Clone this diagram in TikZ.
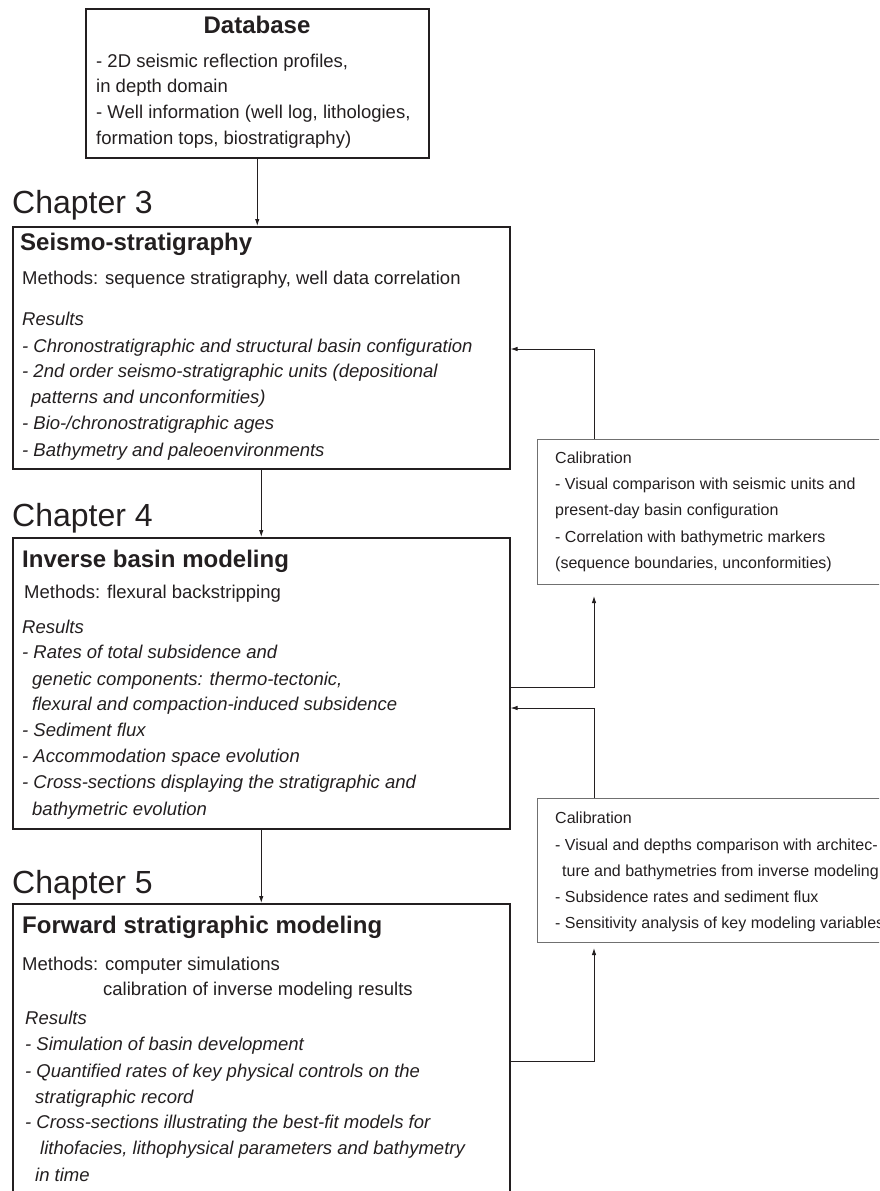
\documentclass[tikz,border=0pt]{standalone}
\usepackage{fontspec}
\setmainfont{Liberation Sans}
\usetikzlibrary{arrows.meta}

\definecolor{ink}{HTML}{231F20}
\definecolor{calgray}{HTML}{707070}

\tikzset{
  bigbox/.style={draw=ink, line width=1.5pt, anchor=north west, inner sep=0pt},
  calbox/.style={draw=calgray, line width=1pt, anchor=north west, inner sep=0pt},
  txt/.style={anchor=base west, inner sep=0pt, text=ink, font=\fontsize{18.5}{22}\selectfont},
  itl/.style={txt, font=\fontsize{18.5}{22}\selectfont\itshape},
  ttl/.style={txt, font=\fontsize{24}{28}\selectfont\bfseries},
  chap/.style={txt, font=\fontsize{32}{36}\selectfont},
  cal/.style={txt, font=\fontsize{16}{20}\selectfont},
  link/.style={draw=ink, line width=0.9pt, -{Latex[length=7pt,width=4.5pt]}},
}

\begin{document}
\begin{tikzpicture}[x=1pt, y=-1pt]
\useasboundingbox (0,0) rectangle (879,1191);
\clip (0,0) rectangle (879,1191);

% boxes
\node[bigbox, minimum width=343pt, minimum height=149pt] (db) at (85,8) {};
\node[bigbox, minimum width=497pt, minimum height=242pt] (seismo) at (12,226) {};
\node[bigbox, minimum width=497pt, minimum height=291pt] (inverse) at (12,537) {};
\node[bigbox, minimum width=497pt, minimum height=300pt] (forward) at (12,903) {};
\node[calbox, minimum width=380pt, minimum height=145pt] (cal1) at (537,439) {};
\node[calbox, minimum width=380pt, minimum height=144pt] (cal2) at (537,798) {};

% database
\node[ttl, anchor=base] (dbt) at (257,33) {Database};
\node[txt] (db1) at (96,67) {- 2D seismic reflection profiles,};
\node[txt] (db2) at (96,92) {in depth domain};
\node[txt] (db3) at (96,118) {- Well information (well log, lithologies,};
\node[txt] (db4) at (96,144) {formation tops, biostratigraphy)};

% chapter 3
\node[chap] (ch3) at (12,213) {Chapter 3};
\node[ttl] (st) at (20,250) {Seismo-stratigraphy};
\node[txt] (sm) at (22,284) {Methods: sequence stratigraphy, well data correlation};
\node[itl] (sr) at (22,325) {Results};
\node[itl] (s1) at (22,352) {- Chronostratigraphic and structural basin configuration};
\node[itl] (s2) at (22,377) {- 2nd order seismo-stratigraphic units (depositional};
\node[itl] (s3) at (31,403) {patterns and unconformities)};
\node[itl] (s4) at (22,429) {- Bio-/chronostratigraphic ages};
\node[itl] (s5) at (22,456) {- Bathymetry and paleoenvironments};

% chapter 4
\node[chap] (ch4) at (12,526) {Chapter 4};
\node[ttl] (it) at (22,567) {Inverse basin modeling};
\node[txt] (im) at (24,598) {Methods: flexural backstripping};
\node[itl] (ir) at (22,633) {Results};
\node[itl] (i1) at (22,658) {- Rates of total subsidence and};
\node[itl] (i2) at (32,685) {genetic components: thermo-tectonic,};
\node[itl] (i3) at (32,710) {flexural and compaction-induced subsidence};
\node[itl] (i4) at (22,736) {- Sediment flux};
\node[itl] (i5) at (22,762) {- Accommodation space evolution};
\node[itl] (i6) at (22,788) {- Cross-sections displaying the stratigraphic and};
\node[itl] (i7) at (32,815) {bathymetric evolution};

% chapter 5
\node[chap] (ch5) at (12,893) {Chapter 5};
\node[ttl] (ft) at (22,933) {Forward stratigraphic modeling};
\node[txt] (fm1) at (22,970) {Methods: computer simulations};
\node[txt] (fm2) at (103,995) {calibration of inverse modeling results};
\node[itl] (fr) at (25,1024) {Results};
\node[itl] (f1) at (25,1050) {- Simulation of basin development};
\node[itl] (f2) at (25,1077) {- Quantified rates of key physical controls on the};
\node[itl] (f3) at (35,1103) {stratigraphic record};
\node[itl] (f4) at (25,1128) {- Cross-sections illustrating the best-fit models for};
\node[itl] (f5) at (40,1154) {lithofacies, lithophysical parameters and bathymetry};
\node[itl] (f6) at (35,1181) {in time};

% calibration 1
\node[cal] (c1t) at (555,463) {Calibration};
\node[cal] (c11) at (555,489) {- Visual comparison with seismic units and};
\node[cal] (c12) at (555,515) {present-day basin configuration};
\node[cal] (c13) at (555,542) {- Correlation with bathymetric markers};
\node[cal] (c14) at (555,568) {(sequence boundaries, unconformities)};

% calibration 2
\node[cal] (c2t) at (555,823) {Calibration};
\node[cal] (c21) at (555,850) {- Visual and depths comparison with architec-};
\node[cal] (c22) at (562,876) {ture and bathymetries from inverse modeling};
\node[cal] (c23) at (555,902) {- Subsidence rates and sediment flux};
\node[cal] (c24) at (555,928) {- Sensitivity analysis of key modeling variables};

% connectors
\coordinate (up1) at (594,349);
\coordinate (lo1) at (594,687);
\coordinate (up2) at (594,708);
\coordinate (lo2) at (594,1061);

\draw[link] (db.south) -- (db.south |- seismo.north);
\draw[link] (seismo.south) -- (inverse.north);
\draw[link] (inverse.south) -- (forward.north);

\draw[link] (cal1.north -| up1) -- (up1) -- (seismo.east |- up1);
\draw[link] (inverse.east |- lo1) -- (lo1) -- ([yshift=-11pt]cal1.south -| lo1);
\draw[link] (cal2.north -| up2) -- (up2) -- (inverse.east |- up2);
\draw[link] (forward.east |- lo2) -- (lo2) -- ([yshift=-5pt]cal2.south -| lo2);

\end{tikzpicture}
\end{document}
